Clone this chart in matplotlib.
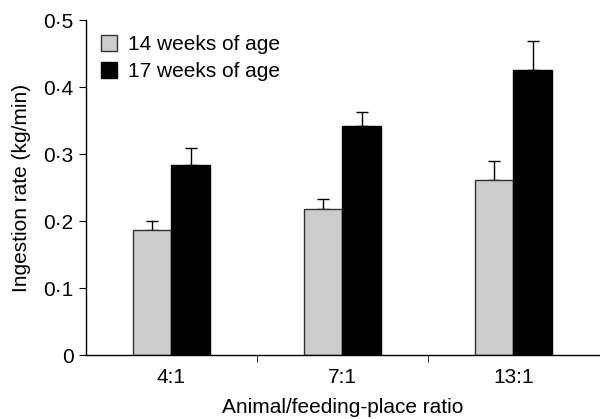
import matplotlib.pyplot as plt
import numpy as np
from matplotlib.ticker import FixedLocator, FuncFormatter

plt.rcParams['font.family'] = ['Liberation Sans', 'DejaVu Sans']

# Data
ratios = ["4:1", "7:1", "13:1"]
week14 = [0.186, 0.218, 0.261]
week14_err = [0.014, 0.015, 0.028]
week17 = [0.283, 0.342, 0.425]
week17_err = [0.026, 0.020, 0.043]

fig = plt.figure(figsize=(6, 4.19), dpi=100)
ax = fig.add_axes([0.1433, 0.1527, 0.855, 0.7995])

x = np.arange(len(ratios))
w = 0.225

ax.bar(x - w / 2, week14, w, color="#cccccc", edgecolor="#333333", linewidth=1,
       label="14 weeks of age", zorder=2)
ax.bar(x + w / 2, week17, w, color="black", edgecolor="black", linewidth=1,
       label="17 weeks of age", zorder=2)
ax.errorbar(x - w / 2, week14, yerr=[np.zeros(3), week14_err], fmt="none",
            ecolor="black", elinewidth=1, capsize=4.5, capthick=1, zorder=1)
ax.errorbar(x + w / 2, week17, yerr=[np.zeros(3), week17_err], fmt="none",
            ecolor="black", elinewidth=1, capsize=4.5, capthick=1, zorder=1)

ax.set_xlim(-0.5, 2.5)
ax.set_ylim(0, 0.5)
ax.set_yticks([0, 0.1, 0.2, 0.3, 0.4, 0.5])
ax.yaxis.set_major_formatter(FuncFormatter(
    lambda v, p: "0" if v == 0 else f"{v:.1f}".replace(".", "\u00b7")))
ax.set_xticks(x)
ax.set_xticklabels(ratios)
ax.xaxis.set_minor_locator(FixedLocator([0.5, 1.5]))
ax.tick_params(axis="x", which="major", length=0, pad=9, labelsize=15)
ax.tick_params(axis="x", which="minor", length=5, direction="out")
ax.tick_params(axis="y", length=5, direction="out", labelsize=15, pad=4)

for s in ["top", "right"]:
    ax.spines[s].set_visible(False)
ax.spines["left"].set_linewidth(1)
ax.spines["bottom"].set_linewidth(1)

ax.set_ylabel("Ingestion rate (kg/min)", fontsize=15, labelpad=9)
ax.set_xlabel("Animal/feeding-place ratio", fontsize=15, labelpad=8)

ax.legend(loc="upper left", bbox_to_anchor=(0.0, 1.0), frameon=False,
          fontsize=15, handlelength=0.8, handleheight=0.8,
          handletextpad=0.5, labelspacing=0.4, borderaxespad=0.3)

fig.savefig("out.png", dpi=100)
